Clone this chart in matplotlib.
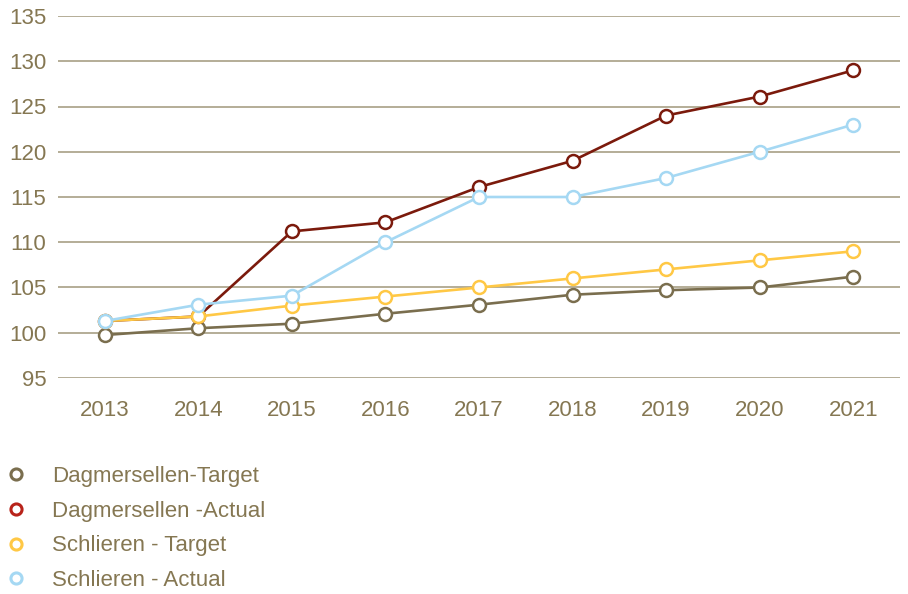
import matplotlib
matplotlib.use("Agg")
import matplotlib.pyplot as plt
from matplotlib.lines import Line2D

years = ["2013", "2014", "2015", "2016", "2017", "2018", "2019", "2020", "2021"]
dag_target = [99.75, 100.5, 101.0, 102.1, 103.1, 104.2, 104.7, 105.0, 106.2]
dag_actual = [101.3, 101.8, 111.2, 112.2, 116.1, 119.0, 124.0, 126.1, 129.0]
sch_target = [101.3, 101.8, 103.0, 104.0, 105.0, 106.0, 107.0, 108.0, 109.0]
sch_actual = [101.3, 103.1, 104.1, 110.0, 115.0, 115.0, 117.1, 120.0, 123.0]
labels = ["Dagmersellen-Target", "Dagmersellen -Actual", "Schlieren - Target", "Schlieren - Actual"]
line_colors = ["#7a6e4e", "#7b1a0c", "#ffc845", "#a5d8f3"]
legend_colors = ["#7a6e4e", "#b8231a", "#ffc845", "#a5d8f3"]
yticks = [95, 100, 105, 110, 115, 120, 125, 130, 135]

text_color = "#857752"
plt.rcParams['font.family'] = ['Liberation Sans', 'DejaVu Sans']

fig = plt.figure(figsize=(9.08, 5.94), dpi=100)
ax = fig.add_axes([58/908, 1-378/594, 842/908, 362/594])

x = list(range(len(years)))
for series, c in zip([dag_target, dag_actual, sch_target, sch_actual], line_colors):
    ax.plot(x, series, color=c, lw=1.9, marker='o', markersize=9.3,
            markerfacecolor='white', markeredgecolor=c, markeredgewidth=1.8,
            clip_on=False, zorder=3)

ax.set_xlim(-0.5, 8.5)
ax.set_ylim(95, 135)
ax.set_yticks(yticks)
ax.set_xticks(x)
ax.set_xticklabels(years)
for s in ax.spines.values():
    s.set_visible(False)
ax.grid(axis='y', color='#a89f85', lw=1.2, zorder=0)
ax.set_axisbelow(True)
ax.tick_params(axis='both', length=0, labelsize=16, labelcolor=text_color)
ax.tick_params(axis='y', pad=8.5)
ax.tick_params(axis='x', pad=15.5)

handles = [Line2D([0], [0], lw=0, marker='o', markersize=8, markerfacecolor='white',
                  markeredgecolor=c, markeredgewidth=2.2) for c in legend_colors]
leg = fig.legend(handles, labels, loc='upper left', bbox_to_anchor=(-4/908, 1-457/594),
                 frameon=False, fontsize=16, labelspacing=0.62, handlelength=1.0,
                 handletextpad=1.11, borderaxespad=0)
for t in leg.get_texts():
    t.set_color(text_color)

fig.savefig("out.png", dpi=100)
